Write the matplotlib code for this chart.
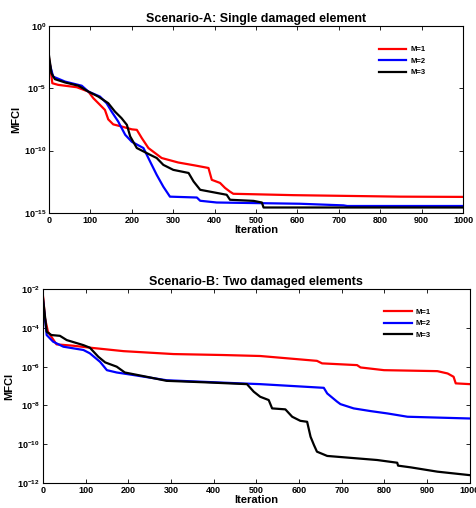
import numpy as np
import matplotlib
matplotlib.use('Agg')
import matplotlib.pyplot as plt
from matplotlib.ticker import FixedLocator, FixedFormatter, MultipleLocator

plt.rcParams['font.family'] = ['Liberation Sans', 'DejaVu Sans']
plt.rcParams['font.weight'] = 'bold'
plt.rcParams['mathtext.fontset'] = 'custom'
plt.rcParams['mathtext.rm'] = 'Liberation Sans:bold'
plt.rcParams['mathtext.bf'] = 'Liberation Sans:bold'

# Scenario A (log10 of MFCI)
a_m1_it = [0, 2, 8, 22, 67, 95, 107, 119, 135, 143, 155, 175, 200, 212, 224, 240, 272, 312, 353, 385, 393, 413, 425, 437, 445, 590, 848, 1000]
a_m1_lg = [-2.6, -3.0, -4.6, -4.73, -4.92, -5.27, -5.8, -6.2, -6.74, -7.5, -7.9, -8.07, -8.3, -8.34, -9.0, -9.8, -10.6, -10.96, -11.2, -11.4, -12.35, -12.6, -13.0, -13.3, -13.47, -13.58, -13.7, -13.72]
a_m2_it = [0, 10, 39, 79, 95, 123, 139, 151, 167, 184, 200, 228, 244, 260, 276, 292, 357, 365, 405, 606, 711, 720, 1000]
a_m2_lg = [-2.86, -4.07, -4.47, -4.8, -5.27, -5.67, -6.2, -6.87, -7.67, -8.74, -9.3, -9.8, -10.88, -11.95, -12.9, -13.7, -13.77, -14.03, -14.17, -14.27, -14.4, -14.45, -14.45]
a_m3_it = [0, 6, 14, 39, 71, 95, 119, 143, 159, 175, 188, 196, 212, 244, 260, 276, 300, 337, 349, 365, 389, 429, 437, 494, 514, 518, 1000]
a_m3_lg = [-2.4, -3.8, -4.27, -4.54, -4.8, -5.27, -5.67, -6.2, -6.87, -7.4, -7.94, -8.87, -9.8, -10.34, -10.6, -11.15, -11.55, -11.8, -12.48, -13.15, -13.3, -13.55, -13.95, -14.04, -14.17, -14.57, -14.57]

# Scenario B (log10 of MFCI)
b_m1_it = [0, 1, 5, 12, 20, 32, 71, 110, 189, 306, 423, 509, 642, 654, 736, 744, 799, 924, 948, 962, 967, 1000]
b_m1_lg = [-2.3, -2.48, -3.5, -4.2, -4.46, -4.85, -4.92, -5.02, -5.2, -5.35, -5.4, -5.45, -5.7, -5.83, -5.92, -6.04, -6.18, -6.23, -6.35, -6.52, -6.86, -6.9]
b_m2_it = [0, 9, 24, 48, 95, 110, 134, 150, 173, 212, 290, 462, 509, 658, 666, 689, 697, 728, 768, 807, 854, 1000]
b_m2_lg = [-2.5, -4.37, -4.71, -4.97, -5.14, -5.31, -5.75, -6.18, -6.3, -6.43, -6.7, -6.86, -6.9, -7.09, -7.38, -7.8, -7.93, -8.15, -8.29, -8.41, -8.58, -8.67]
b_m3_it = [0, 9, 20, 40, 56, 95, 110, 130, 146, 173, 192, 243, 290, 384, 478, 494, 509, 529, 537, 568, 584, 603, 619, 627, 635, 642, 666, 783, 830, 832, 862, 924, 1000]
b_m3_lg = [-2.4, -4.2, -4.37, -4.41, -4.63, -4.89, -5.02, -5.49, -5.78, -6.0, -6.3, -6.52, -6.73, -6.81, -6.9, -7.29, -7.55, -7.72, -8.15, -8.2, -8.58, -8.79, -8.84, -9.61, -10.04, -10.38, -10.6, -10.81, -10.95, -11.1, -11.19, -11.41, -11.59]

labels = ['M=1', 'M=2', 'M=3']
colors = ['red', 'blue', 'black']

fig = plt.figure(figsize=(4.76, 5.08), dpi=100)
ax1 = fig.add_axes([0.103, 0.581, 0.870, 0.368])
ax2 = fig.add_axes([0.090, 0.049, 0.897, 0.382])

series_a = [(a_m1_it, a_m1_lg), (a_m2_it, a_m2_lg), (a_m3_it, a_m3_lg)]
series_b = [(b_m1_it, b_m1_lg), (b_m2_it, b_m2_lg), (b_m3_it, b_m3_lg)]

for ax, series, title, ylim, yt, leg_anchor in [
        (ax1, series_a, 'Scenario-A: Single damaged element', (1e-15, 1), [0, -5, -10, -15], (0.925, 0.93)),
        (ax2, series_b, 'Scenario-B: Two damaged elements', (1e-12, 1e-2), [-2, -4, -6, -8, -10, -12], (0.925, 0.935))]:
    for (it, lg), lab, c in zip(series, labels, colors):
        ax.semilogy(it, 10.0 ** np.array(lg), color=c, lw=1.6, label=lab)
    ax.set_xlim(0, 1000)
    ax.set_ylim(*ylim)
    ax.xaxis.set_major_locator(MultipleLocator(100))
    ax.yaxis.set_major_locator(FixedLocator([10.0 ** e for e in yt]))
    ax.yaxis.set_major_formatter(FixedFormatter([r'$10^{%d}$' % e for e in yt]))
    ax.yaxis.set_minor_locator(FixedLocator([]))
    ax.tick_params(direction='in', top=True, right=True, labelsize=6.5, length=3, width=0.6, pad=2)
    for lbl in ax.get_xticklabels():
        lbl.set_fontweight('bold')
    ax.set_title(title, fontsize=9, fontweight='bold', pad=3)
    ax.set_xlabel('Iteration', fontsize=8, fontweight='bold', labelpad=0)
    ax.set_ylabel('MFCI', fontsize=8, fontweight='bold', labelpad=2)
    for s in ax.spines.values():
        s.set_linewidth(0.8)
    ax.legend(loc='upper right', bbox_to_anchor=leg_anchor, frameon=False,
              prop={'size': 5.5, 'weight': 'bold'}, handlelength=3.6,
              labelspacing=0.55, handletextpad=0.5)

fig.savefig('out.png', dpi=100)
